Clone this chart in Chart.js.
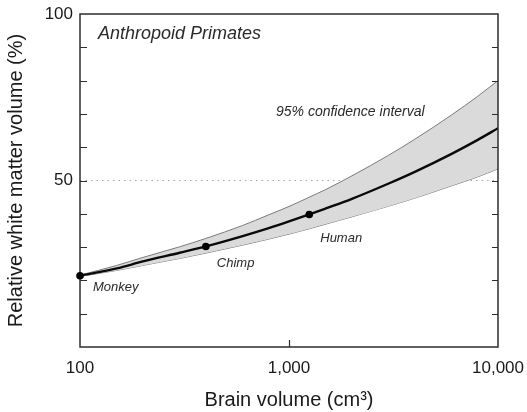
<!DOCTYPE html>
<html>
<head>
<meta charset="utf-8">
<script src="https://cdn.jsdelivr.net/npm/chart.js@4.4.1/dist/chart.umd.min.js"></script>
<style>
    html, body { margin: 0; padding: 0; background: #ffffff; }
    #wrap { width: 527px; height: 412px; }
</style>
</head>
<body>
<div id="wrap"><canvas id="brainChart" width="527" height="412"></canvas></div>
<script>
// Brain volume (cm3) sample positions along the fitted curve
const brainVolumes = [100, 150, 200, 300, 400, 600, 800, 1000, 1250, 1500, 2000, 3000, 4000, 6000, 8000, 10000];
// Fitted relative white matter volume (%)
const fitValues = [21.4, 23.6, 25.7, 28.3, 30.2, 33.3, 35.7, 37.7, 39.8, 41.6, 44.5, 49.1, 52.6, 58.0, 62.2, 65.7];
// 95% confidence interval, upper and lower edges
const upperValues = [21.6, 24.5, 26.9, 30.1, 32.6, 36.5, 39.7, 42.2, 45.0, 47.3, 51.4, 57.6, 62.4, 69.7, 75.3, 80.0];
const lowerValues = [21.2, 23.0, 24.5, 26.6, 28.2, 30.6, 32.4, 33.9, 35.5, 36.9, 39.1, 42.3, 44.7, 48.4, 51.1, 53.5];

// Species points
const speciesNames = ['Monkey', 'Chimp', 'Human'];
const speciesBrain = [100, 400, 1250];
const speciesWhite = [21.4, 30.2, 39.8];

// Axis ticks
const xTickValues = [100, 1000, 10000];
const yLabelValues = [50, 100];
const referenceLevel = 50;

const FONT = "'Liberation Sans', Arial, Helvetica, sans-serif";

function toPoints(xs, ys) {
    return xs.map((x, i) => ({ x: x, y: ys[i] }));
}

function formatThousands(v) {
    return Number(v).toLocaleString('en-US');
}

function drawFrame(chart) {
    const ctx = chart.ctx;
    const area = chart.chartArea;
    const xs = chart.scales.x;
    const ys = chart.scales.y;

    ctx.save();
    ctx.strokeStyle = '#2e2e2e';
    ctx.lineWidth = 1.5;
    ctx.strokeRect(area.left, area.top, area.right - area.left, area.bottom - area.top);

    // y ticks on both sides, pointing in
    ctx.lineWidth = 1.2;
    ys.ticks.forEach(t => {
        const py = Math.round(ys.getPixelForValue(t.value)) + 0.5;
        if (py <= area.top + 1 || py >= area.bottom - 1) return;
        ctx.beginPath();
        ctx.moveTo(area.left, py);
        ctx.lineTo(area.left + 7, py);
        ctx.moveTo(area.right, py);
        ctx.lineTo(area.right - 6, py);
        ctx.stroke();
    });
    // x ticks, pointing up
    xs.ticks.forEach(t => {
        const px = Math.round(xs.getPixelForValue(t.value)) + 0.5;
        if (px <= area.left + 1 || px >= area.right - 1) return;
        ctx.beginPath();
        ctx.moveTo(px, area.bottom);
        ctx.lineTo(px, area.bottom - 7);
        ctx.stroke();
    });
    ctx.restore();
}

// frame (under the species dots), inward tick marks and the text labels
const decorPlugin = {
    id: 'decor',
    afterDatasetDraw(chart, args) {
        if (args.index === 1) drawFrame(chart);
    },
    afterDatasetsDraw(chart) {
        const ctx = chart.ctx;
        const area = chart.chartArea;
        const xs = chart.scales.x;
        const ys = chart.scales.y;

        ctx.save();
        ctx.fillStyle = '#2a2a2a';
        ctx.textBaseline = 'middle';
        ctx.textAlign = 'left';
        ctx.font = 'italic 18px ' + FONT;
        ctx.fillText('Anthropoid Primates', area.left + 18, area.top + 20);

        ctx.font = 'italic 14px ' + FONT;
        ctx.fillText('95% confidence interval', area.left + 196, 112);

        const offsets = [[13, 12], [11, 17], [11, 24]];
        ctx.font = 'italic 13px ' + FONT;
        speciesNames.forEach((name, i) => {
            const px = xs.getPixelForValue(speciesBrain[i]);
            const py = ys.getPixelForValue(speciesWhite[i]);
            ctx.fillText(name, px + offsets[i][0], py + offsets[i][1]);
        });
        ctx.restore();
    }
};

const ctx = document.getElementById('brainChart');

new Chart(ctx, {
    type: 'line',
    data: {
        datasets: [
            {
                label: 'species',
                type: 'scatter',
                data: toPoints(speciesBrain, speciesWhite),
                showLine: false,
                clip: false,
                pointRadius: 3.8,
                pointBackgroundColor: '#000000',
                pointBorderColor: '#000000',
                pointBorderWidth: 0,
                order: 0
            },
            {
                label: 'fit',
                data: toPoints(brainVolumes, fitValues),
                borderColor: '#0a0a0a',
                borderWidth: 2.4,
                pointRadius: 0,
                cubicInterpolationMode: 'monotone',
                fill: false,
                order: 1
            },
            {
                label: 'upper',
                data: toPoints(brainVolumes, upperValues),
                borderColor: '#7a7a7a',
                borderWidth: 1,
                pointRadius: 0,
                cubicInterpolationMode: 'monotone',
                backgroundColor: '#dadada',
                fill: '+1',
                order: 2
            },
            {
                label: 'lower',
                data: toPoints(brainVolumes, lowerValues),
                borderColor: '#7a7a7a',
                borderWidth: 1,
                pointRadius: 0,
                cubicInterpolationMode: 'monotone',
                fill: false,
                order: 3
            },
            {
                label: 'reference',
                data: toPoints([xTickValues[0], xTickValues[xTickValues.length - 1]], [referenceLevel, referenceLevel]),
                borderColor: '#a8a8a8',
                borderWidth: 1.2,
                borderDash: [1.5, 4],
                pointRadius: 0,
                fill: false,
                order: 4
            }
        ]
    },
    plugins: [decorPlugin],
    options: {
        responsive: false,
        animation: false,
        layout: {
            padding: { top: 14, right: 29, left: 0, bottom: 0 }
        },
        plugins: {
            legend: { display: false },
            tooltip: { enabled: false }
        },
        scales: {
            x: {
                type: 'logarithmic',
                min: 100,
                max: 10000,
                afterBuildTicks: scale => {
                    scale.ticks = xTickValues.map(v => ({ value: v }));
                },
                afterFit: scale => {
                    scale.height = 65;
                    scale.paddingLeft = 0;
                    scale.paddingRight = 0;
                },
                grid: { display: false, drawTicks: false },
                border: { display: false },
                ticks: {
                    autoSkip: false,
                    maxRotation: 0,
                    padding: 11,
                    color: '#1a1a1a',
                    font: { size: 17, family: FONT },
                    callback: v => formatThousands(v)
                },
                title: {
                    display: true,
                    text: 'Brain volume (cm³)',
                    color: '#1a1a1a',
                    font: { size: 20, family: FONT },
                    padding: { top: 0, bottom: 0 }
                }
            },
            y: {
                min: 0,
                max: 100,
                afterFit: scale => {
                    scale.width = 80;
                    scale.paddingTop = 0;
                    scale.paddingBottom = 0;
                },
                grid: { display: false, drawTicks: false },
                border: { display: false },
                ticks: {
                    stepSize: 10,
                    autoSkip: false,
                    padding: 7,
                    color: '#1a1a1a',
                    font: { size: 17, family: FONT },
                    callback: v => yLabelValues.includes(v) ? String(v) : ''
                },
                title: {
                    display: true,
                    text: 'Relative white matter volume (%)',
                    color: '#1a1a1a',
                    font: { size: 20, family: FONT },
                    padding: { top: 4, bottom: 0 }
                }
            }
        }
    }
});
</script>
</body>
</html>
